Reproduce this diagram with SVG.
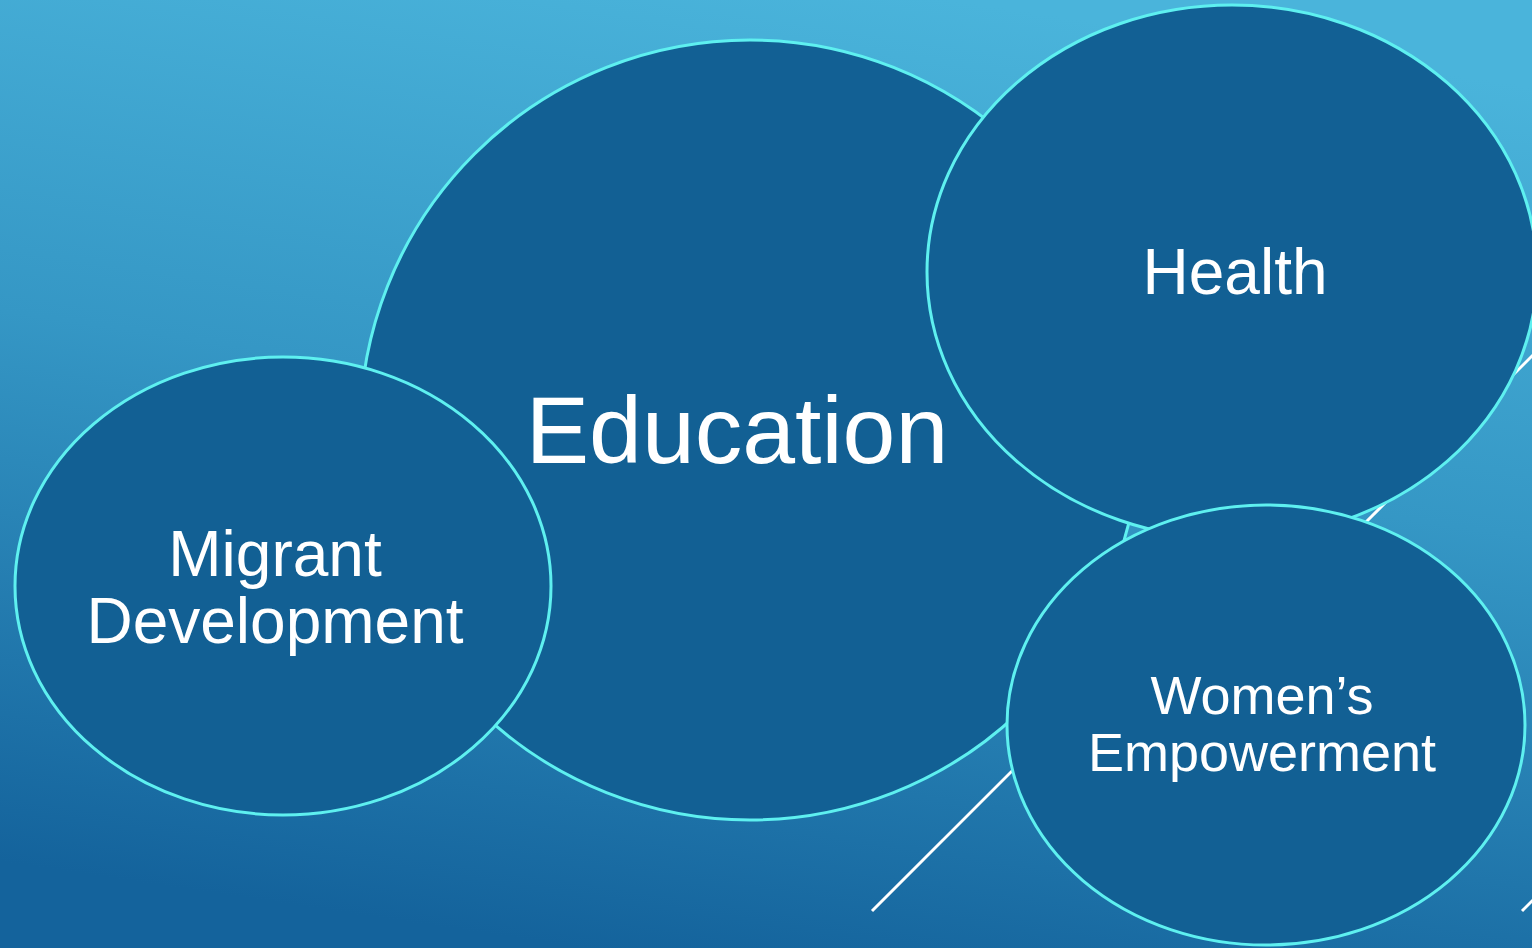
<svg xmlns="http://www.w3.org/2000/svg" width="1532" height="948" viewBox="0 0 1532 948">
<defs>
<linearGradient id="bg" x1="0.62" y1="0" x2="0.38" y2="1">
<stop offset="0" stop-color="#4ab4db"/>
<stop offset="0.45" stop-color="#3597c5"/>
<stop offset="1" stop-color="#14639c"/>
</linearGradient>
</defs>
<style>
.node{fill:#126094;stroke:#5ef0f0;stroke-width:3}
.lbl{fill:#ffffff;font-family:"Liberation Sans",Arial,sans-serif;text-anchor:middle}
.deco{stroke:#ffffff;stroke-width:3}
</style>
<rect x="0" y="0" width="1532" height="948" fill="url(#bg)"/>
<g id="decor">
<line class="deco" x1="872" y1="911" x2="1060" y2="723"/>
<line class="deco" x1="1365" y1="523" x2="1545" y2="343"/>
<line class="deco" x1="1522" y1="911" x2="1540" y2="893"/>
</g>
<g id="connectors"></g>
<g id="education">
<circle class="node" cx="750" cy="430" r="390"/>
<text class="lbl" x="737" y="463" font-size="95">Education</text>
</g>
<g id="health">
<ellipse class="node" cx="1232" cy="272" rx="305" ry="267"/>
<text class="lbl" x="1235" y="294" font-size="64">Health</text>
</g>
<g id="migrant">
<ellipse class="node" cx="283" cy="586" rx="268" ry="229"/>
<text class="lbl" x="275" y="576" font-size="64">Migrant</text>
<text class="lbl" x="275" y="643" font-size="64">Development</text>
</g>
<g id="women">
<ellipse class="node" cx="1266" cy="725" rx="259" ry="220"/>
<text class="lbl" x="1262" y="714" font-size="54">Women’s</text>
<text class="lbl" x="1262" y="771" font-size="54">Empowerment</text>
</g>
</svg>
